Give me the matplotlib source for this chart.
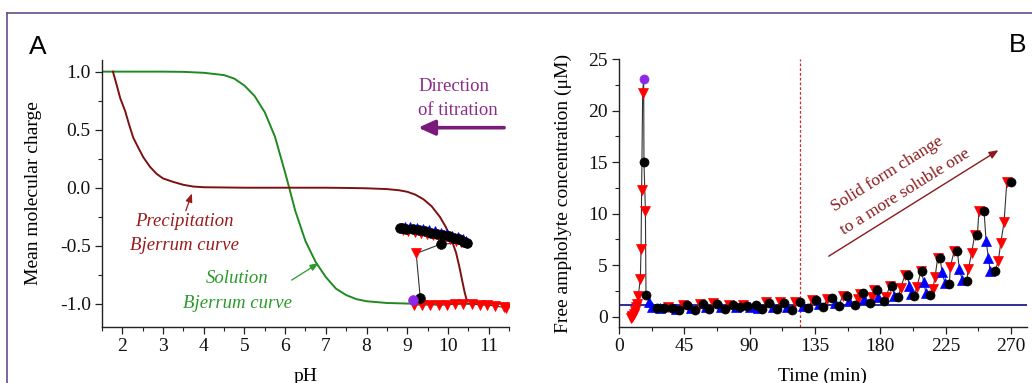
import matplotlib
matplotlib.use("Agg")
import matplotlib.pyplot as plt
from matplotlib.lines import Line2D
from matplotlib.ticker import MultipleLocator, FormatStrFormatter

plt.rcParams['font.family'] = ['Liberation Serif', 'DejaVu Serif']
plt.rcParams['axes.unicode_minus'] = False

# ---------------- Panel A: Bjerrum curves ----------------
sol_ph = [1.5, 2.0, 3.0, 3.5, 4.0, 4.5, 4.75, 5.0, 5.25, 5.5, 5.75, 6.0, 6.1, 6.25,
          6.5, 6.75, 7.0, 7.25, 7.5, 7.75, 8.0, 8.5, 9.0, 10.0, 11.0, 11.5]
sol_charge = [1.0, 1.0, 1.0, 0.998, 0.99, 0.97, 0.94, 0.88, 0.79, 0.65, 0.44, 0.13, 0.0,
              -0.2, -0.46, -0.64, -0.77, -0.87, -0.925, -0.96, -0.978, -0.993, -0.998,
              -1.0, -1.0, -1.0]

prec_ph = [1.77, 1.85, 1.95, 2.07, 2.17, 2.27, 2.4, 2.52, 2.68, 2.84, 3.0, 3.25, 3.5, 3.74,
           4.0, 5.0, 6.0, 7.0, 7.5, 8.0, 8.5, 8.8, 9.0, 9.2, 9.4, 9.6, 9.8, 9.95,
           10.1, 10.2, 10.28, 10.35, 10.41, 10.47]
prec_charge = [1.0, 0.9, 0.77, 0.66, 0.54, 0.43, 0.34, 0.26, 0.18, 0.12, 0.08, 0.05, 0.025,
               0.01, 0.004, 0.0, 0.0, 0.0, -0.002, -0.005, -0.012, -0.022, -0.035, -0.06,
               -0.1, -0.16, -0.25, -0.34, -0.46, -0.56, -0.68, -0.8, -0.9, -0.98]

# measured points, in measurement order (r = down triangle, b = up triangle, k = circle, p = first point)
a_ph = [11.42, 11.37, 11.16, 10.96, 10.78, 10.59, 10.38, 10.18, 9.98, 9.77, 9.57, 9.36, 9.16,
        9.14, 9.32, 9.22, 9.83,
        10.48, 10.44, 10.40, 10.36, 10.32, 10.28, 10.24, 10.20, 10.15, 10.11, 10.06, 10.02,
        9.97, 9.93, 9.88, 9.83, 9.78, 9.73, 9.68, 9.63, 9.58, 9.53, 9.48, 9.43, 9.38, 9.33,
        9.28, 9.23, 9.18, 9.13, 9.08, 9.03, 8.98, 8.94, 8.90, 8.86, 8.82]
a_charge = [-1.04, -1.03, -1.02, -1.01, -1.01, -1.0, -1.0, -1.0, -1.01, -1.01, -1.01, -1.01, -1.01,
            -0.97, -0.95, -0.566, -0.485,
            -0.475, -0.455, -0.47, -0.445, -0.465, -0.44, -0.425, -0.455, -0.435, -0.415, -0.445,
            -0.42, -0.40, -0.435, -0.41, -0.39, -0.42, -0.40, -0.375, -0.41, -0.39, -0.365,
            -0.40, -0.375, -0.355, -0.39, -0.365, -0.345, -0.38, -0.36, -0.34, -0.375, -0.355,
            -0.335, -0.365, -0.345, -0.345]
a_kind = list("rrrrrrrrrrrrr" + "pkrk" +
              "kbkbrkbrkbrkbrkbrkbrkbrkbrkbrkbrkbrkk")

# ---------------- Panel B: concentration vs time ----------------
b_time = [8.0, 8.7, 9.3, 10.0, 10.7, 11.5, 12.2, 13.3, 14.7, 15.2, 15.6, 16.3, 17.0, 17.2,
          18.2, 18.6, 21.0, 23.0,
          26.0, 28.5, 31.2, 33.5, 36.3, 39.0, 41.6, 44.0, 47.1, 49.5, 52.4, 55.5, 58.1, 60.0,
          62.3, 65.0, 67.3, 70.0, 73.0, 76.0, 78.3, 80.5, 83.4, 85.5, 88.0, 90.5, 94.4, 96.0,
          98.3, 101.0, 103.6, 106.0, 108.6, 111.0, 113.7, 116.0, 119.0, 121.5, 124.7, 127.0,
          130.5, 133.0, 135.5, 137.5, 140.8, 143.5, 146.5, 148.5, 151.6, 154.0, 156.9, 158.5,
          162.4, 164.5, 166.0, 167.9, 169.0, 173.0, 174.1, 175.8, 177.6, 178.7, 182.8, 184.0,
          186.7, 188.4, 189.5, 192.5, 194.1, 197.1, 198.9, 199.8, 201.5, 203.5, 205.1, 208.1,
          208.6, 209.9, 211.5, 214.3, 216.2, 217.8, 219.6, 221.2, 222.6, 224.5, 227.6, 228.3,
          230.9, 233.1, 234.5, 236.5, 239.6, 240.7, 243.0, 245.0, 246.9, 248.0, 251.5, 252.9,
          254.5, 255.7, 259.1, 261.4, 263.0, 265.3, 267.2, 269.9]
b_conc = [-0.15, -0.05, 0.1, 0.3, 0.55, 0.9, 1.25, 2.0, 3.7, 6.6, 12.3, 21.7, 23.1, 15.0,
          10.3, 2.1, 1.4, 0.95,
          0.8, 0.85, 0.84, 0.95, 0.84, 0.75, 0.62, 1.15, 1.12, 0.85, 0.65, 1.25, 1.2, 0.9,
          0.75, 1.3, 1.28, 0.9, 0.75, 1.15, 1.12, 0.95, 0.97, 1.1, 1.05, 0.95, 1.1, 0.85,
          0.75, 1.4, 1.36, 0.95, 0.75, 1.4, 1.36, 0.95, 0.68, 1.45, 1.42, 1.05,
          0.84, 1.6, 1.6, 1.2, 0.91, 1.75, 1.78, 1.35, 1.07, 2.0, 2.04, 1.5,
          1.17, 1.75, 2.25, 2.27, 1.72, 1.3, 1.88, 2.6, 2.59, 1.88, 1.49, 1.95,
          3.0, 3.02, 2.04, 1.95, 2.79, 4.09, 4.09, 3.02, 2.2, 2.01, 2.85, 4.41,
          4.41, 3.34, 2.3, 2.14, 2.69, 3.89, 5.71, 5.71, 4.31, 3.3, 3.18, 4.86,
          6.35, 6.35, 4.64, 3.55, 3.5, 4.64, 6.2, 7.88, 7.88, 10.25, 10.25, 7.39,
          5.71, 4.47, 4.41, 5.45, 7.13, 9.17, 13.07, 13.07]
b_kind = list("rrrrrrrrrrrrpk"
              "rkbb"
              "kbkrkbkrkbkrkb"
              "krkbkrkbkrkbkb"
              "krkbkrkbkrkb"
              "krkbkrkbkrkb"
              "krrkbkrrkbkr"
              "rkbkrrkbbkrr"
              "kbbkrrrkbbkr"
              "rkbbkrrrkrkb"
              "bbkrrrrk")
b_baseline = 1.1
b_switch_time = 125

marker_style = {
    'r': dict(marker='v', color='#ff0000', zorder=3),
    'b': dict(marker='^', color='#0000ff', zorder=4),
    'k': dict(marker='o', color='#000000', zorder=5),
    'p': dict(marker='o', color='#8c28e8', zorder=6),
}

fig = plt.figure(figsize=(10.32, 3.83), dpi=100)
axA = fig.add_axes([0.0988, 0.1462, 0.3944, 0.6971])
axB = fig.add_axes([0.5998, 0.1462, 0.3952, 0.6997])


def style_axes(ax):
    for side in ('top', 'right'):
        ax.spines[side].set_visible(False)
    for side in ('left', 'bottom'):
        ax.spines[side].set_color('#222222')
        ax.spines[side].set_linewidth(1.0)
    ax.tick_params(which='major', direction='out', length=5, width=0.9,
                   labelsize=14, pad=3, colors='#222222', labelcolor='#111111')
    ax.tick_params(which='minor', direction='out', length=3, width=0.8, colors='#222222')


def draw_points(ax, xs, ys, kinds, ms):
    for k in ('r', 'b', 'k', 'p'):
        px = [x for x, kk in zip(xs, kinds) if kk == k]
        py = [y for y, kk in zip(ys, kinds) if kk == k]
        st = marker_style[k]
        ax.plot(px, py, ls='none', marker=st['marker'], ms=ms, mfc=st['color'],
                mec=st['color'], mew=0.5, zorder=st['zorder'])


# Panel A
style_axes(axA)
axA.plot(sol_ph, sol_charge, color='#1f8a1f', lw=1.4, zorder=1)
axA.plot(prec_ph, prec_charge, color='#7d1010', lw=1.4, zorder=1)
axA.plot(a_ph, a_charge, color='#333333', lw=0.8, zorder=2)
draw_points(axA, a_ph, a_charge, a_kind, 7)
axA.set_xlim(1.5, 11.5)
axA.set_ylim(-1.2, 1.1)
axA.xaxis.set_major_locator(MultipleLocator(1))
axA.xaxis.set_minor_locator(MultipleLocator(0.5))
axA.yaxis.set_major_locator(MultipleLocator(0.5))
axA.yaxis.set_minor_locator(MultipleLocator(0.25))
axA.yaxis.set_major_formatter(FormatStrFormatter('%.1f'))
axA.set_xlabel('pH', fontsize=14, labelpad=9)
axA.set_ylabel('Mean molecular charge', fontsize=14, labelpad=13)

axA.text(9.27, 0.871, 'Direction', color='#8b2a8b', fontsize=13.5, ha='left', va='center')
axA.text(9.27, 0.664, 'of titration', color='#8b2a8b', fontsize=13.5, ha='left', va='center')
axA.annotate('', xy=(9.27, 0.517), xytext=(11.38, 0.517),
             arrowprops=dict(arrowstyle='-|>,head_length=0.55,head_width=0.25',
                             color='#7a1a7a', lw=2.6, mutation_scale=18, shrinkA=0, shrinkB=0))

axA.text(3.52, -0.29, 'Precipitation', color='#9b1b1b', fontsize=13.5, style='italic',
         ha='center', va='center')
axA.text(3.53, -0.50, 'Bjerrum curve', color='#9b1b1b', fontsize=13.5, style='italic',
         ha='center', va='center')
axA.annotate('', xy=(3.71, -0.05), xytext=(3.56, -0.198),
             arrowprops=dict(arrowstyle='-|>,head_length=0.5,head_width=0.2',
                             color='#9b1b1b', lw=0.9, mutation_scale=10, shrinkA=0, shrinkB=0))

axA.text(4.83, -0.785, 'Solution', color='#2a9a2a', fontsize=13.5, style='italic',
         ha='center', va='center')
axA.text(4.82, -1.0, 'Bjerrum curve', color='#2a9a2a', fontsize=13.5, style='italic',
         ha='center', va='center')
axA.annotate('', xy=(6.82, -0.65), xytext=(6.16, -0.796),
             arrowprops=dict(arrowstyle='-|>,head_length=0.5,head_width=0.2',
                             color='#2a9a2a', lw=0.9, mutation_scale=10, shrinkA=0, shrinkB=0))

# Panel B
style_axes(axB)
axB.axhline(b_baseline, color='#1c1c8c', lw=1.3, zorder=1)
axB.axvline(b_switch_time, color='#d02828', lw=0.9, ls=(0, (2.2, 1.6)), zorder=1)
axB.plot(b_time, b_conc, color='#333333', lw=0.8, zorder=2)
draw_points(axB, b_time, b_conc, b_kind, 6.5)
axB.set_xlim(0, 281)
axB.set_ylim(-1, 25)
axB.xaxis.set_major_locator(MultipleLocator(45))
axB.xaxis.set_minor_locator(MultipleLocator(22.5))
axB.yaxis.set_major_locator(MultipleLocator(5))
axB.yaxis.set_minor_locator(MultipleLocator(2.5))
axB.set_xlabel('Time (min)', fontsize=14, labelpad=9)
axB.set_ylabel('Free ampholyte concentration (\u03bcM)', fontsize=14, labelpad=12)

axB.annotate('', xy=(261.4, 16.15), xytext=(144.5, 5.87),
             arrowprops=dict(arrowstyle='-|>,head_length=0.6,head_width=0.25',
                             color='#8b1a1a', lw=1.0, mutation_scale=9, shrinkA=0, shrinkB=0))
axB.text(184.9, 13.88, 'Solid form change', color='#8b1a1a', fontsize=12.5,
         rotation=32, rotation_mode='anchor', ha='center', va='center')
axB.text(197.1, 12.09, 'to a more soluble one', color='#8b1a1a', fontsize=12.5,
         rotation=32, rotation_mode='anchor', ha='center', va='center')

# panel letters
fig.text(38 / 1032, 1 - 47 / 383, 'A', fontsize=19, family='Liberation Sans',
         ha='center', va='center')
fig.text(1018 / 1032, 1 - 45 / 383, 'B', fontsize=19, family='Liberation Sans',
         ha='center', va='center')

# frame around the figure
frame_color = '#6b4a88'
fig.add_artist(Line2D([7 / 1032, 1.0], [1 - 13 / 383, 1 - 13 / 383],
                      transform=fig.transFigure, color=frame_color, lw=1.2))
fig.add_artist(Line2D([7 / 1032, 7 / 1032], [0.0, 1 - 13 / 383],
                      transform=fig.transFigure, color=frame_color, lw=1.2))

fig.savefig('out.png', dpi=100)
